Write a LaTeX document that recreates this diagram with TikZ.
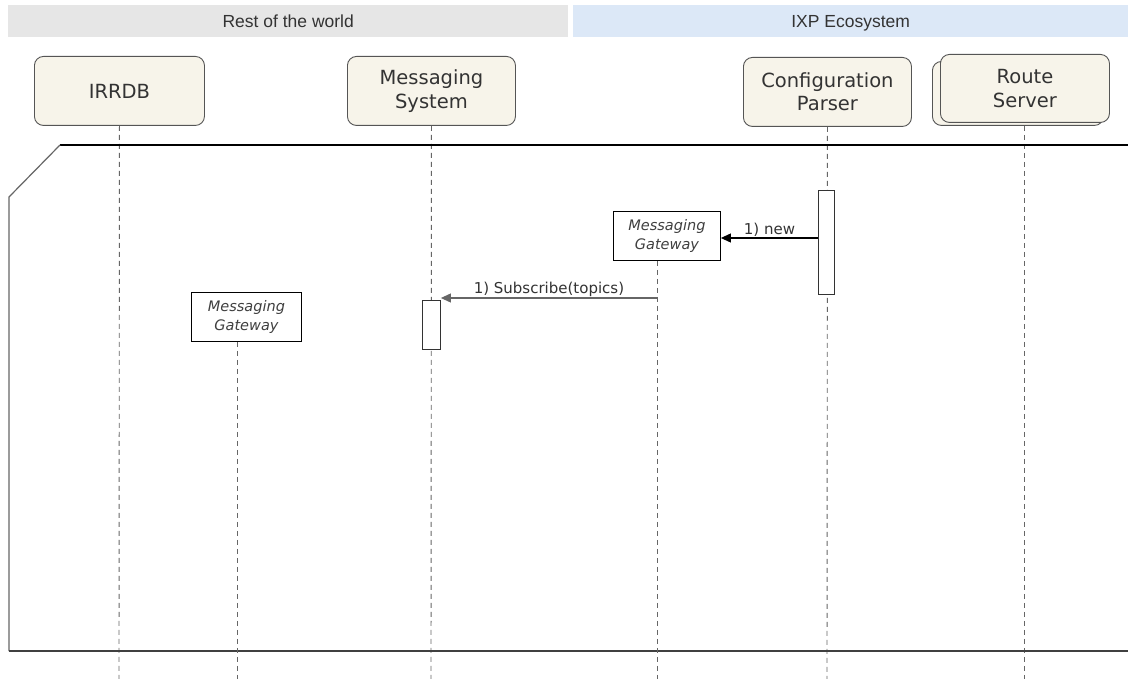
\documentclass[tikz,border=0pt]{standalone}
\usepackage{fontspec}
\setmainfont{DejaVu Sans}
\newfontfamily\headfont{Liberation Sans}
\usetikzlibrary{arrows.meta}
\definecolor{boxfill}{HTML}{F7F4EA}
\definecolor{boxline}{HTML}{555555}
\definecolor{restbar}{HTML}{E6E6E6}
\definecolor{ixpbar}{HTML}{DCE8F7}
\definecolor{lifegray}{HTML}{666666}
\begin{document}
\begin{tikzpicture}[x=1pt,y=-1pt,
  header/.style={anchor=north west,inner sep=0pt,text height=14.5pt,text depth=1.5pt,
    font=\headfont\fontsize{17.5}{20}\selectfont,text=black!80},
  actor/.style={draw=boxline,fill=boxfill,rounded corners=9pt,line width=0.9pt,anchor=north west,inner sep=0pt,
    align=center,font=\fontsize{19.5}{23.5}\selectfont,text=black!80},
  objbox/.style={draw=black,fill=white,line width=0.9pt,anchor=north west,inner sep=0pt,align=center,
    font=\itshape\fontsize{14.5}{19}\selectfont,text=black!75},
  lifeline/.style={draw=lifegray,line width=0.9pt,dash pattern=on 5pt off 4pt},
  actbar/.style={draw=black!80,fill=white,line width=0.9pt,anchor=north west,inner sep=0pt},
  msg/.style={line width=1.1pt,-{Triangle[length=10pt,width=9pt]}},
  msglabel/.style={font=\fontsize{15}{17}\selectfont,text=black!80,inner sep=0.5pt}]
\useasboundingbox (0,0) rectangle (1128,679);
\fill[white] (0,0) rectangle (1128,679);

% swimlane headers
\node[header,fill=restbar,minimum width=560pt,minimum height=32pt] (rest) at (8,5) {Rest of the world};
\node[header,fill=ixpbar,minimum width=555pt,minimum height=32pt] (ixp) at (573,5) {IXP Ecosystem};

% lifeline bottom ends
\coordinate (irrEnd) at (119,679);
\coordinate (msEnd) at (431,679);
\coordinate (cpEnd) at (827,679);
\coordinate (rsEnd) at (1024,679);
\coordinate (mg1End) at (657,679);
\coordinate (mg2End) at (237,679);

% actors
\node[actor,minimum width=170pt,minimum height=69pt] (irrdb) at (34,56) {IRRDB};
\node[actor,minimum width=168pt,minimum height=69pt] (msys) at (347,56) {Messaging\\System};
\node[actor,minimum width=168pt,minimum height=69pt] (cparser) at (743,57) {Configuration\\Parser};
\node[actor,minimum width=171pt,minimum height=64pt] (rsback) at (932,61) {};
\node[actor,minimum width=169pt,minimum height=68pt] (rserver) at (940,54) {Route\\Server};

% lifelines of the actors
\draw[lifeline] (irrdb.south) -- (irrEnd);
\draw[lifeline] (msys.south) -- (msEnd);
\draw[lifeline] (cparser.south) -- (cpEnd);
\draw[lifeline] (rsEnd |- rsback.south) -- (rsEnd);

% frame
\coordinate (fA) at (1128,145);
\coordinate (fB) at (60,145);
\coordinate (fC) at (9,197);
\coordinate (fD) at (9,651);
\coordinate (fE) at (1128,651);
\draw[black,line width=1.2pt] (fA) -- (fB);
\draw[black!60,line width=1.2pt] (fB) -- (fC) -- (fD);
\draw[black!75,line width=1.5pt] (fD) -- (fE);

% activation bars
\node[actbar,minimum width=16pt,minimum height=104pt] (cpact) at (818,190) {};
\node[actbar,minimum width=18pt,minimum height=49pt] (msact) at (422,300) {};

% created objects
\node[objbox,minimum width=107pt,minimum height=49pt] (mgw1) at (613,211) {Messaging\\Gateway};
\node[objbox,minimum width=110pt,minimum height=49pt] (mgw2) at (191,292) {Messaging\\Gateway};
\draw[lifeline] (mg1End |- mgw1.south) -- (mg1End);
\draw[lifeline] (mg2End |- mgw2.south) -- (mg2End);

% messages
\draw[msg,black] (cpact.west |- 0,238) -- (mgw1.east |- 0,238)
  node[msglabel,midway,above=0pt] (lblnew) {1) new};
\draw[msg,lifegray] (mg1End |- 0,298) -- (msact.east |- 0,298)
  node[msglabel,midway,above=0pt] (lblsub) {1) Subscribe(topics)};
\end{tikzpicture}
\end{document}
